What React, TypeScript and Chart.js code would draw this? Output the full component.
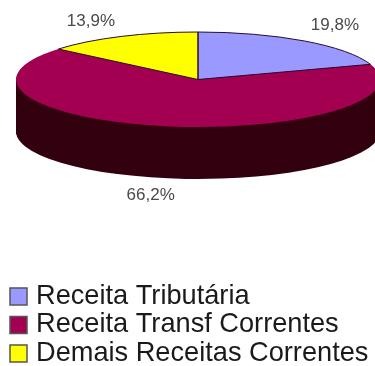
import React, { useEffect, useRef } from "react";
import { Chart, registerables } from "chart.js";

Chart.register(...registerables);

const categories = ["Receita Tributária", "Receita Transf Correntes", "Demais Receitas Correntes"];
const shares = [19.8, 66.2, 13.9];
const shareLabels = ["19,8%", "66,2%", "13,9%"];
const topColors = ["#9999FF", "#A30052", "#FFFF00"];
const wallColors = ["#4C4C80", "#33000F", "#808000"];
const outlinedSlices = [true, false, true];
const labelReachX = [1.29, 1.41, 1.39];
const labelReachY = [1.4, 1.37, 1.35];

// Geometry of the tilted disc
const CENTER_X = 198;
const CENTER_Y = 79.5;
const RADIUS_X = 182;
const RADIUS_Y = 47.5;
const DEPTH = 52;

// Where the legend block sits relative to its default slot
const LEGEND_SHIFT_X = 13.3;
const LEGEND_SHIFT_Y = 11;

function fillWall(ctx: any, arc: any, color: string) {
  ctx.fillStyle = color;
  for (let dy = DEPTH; dy > 0; dy--) {
    ctx.beginPath();
    ctx.moveTo(CENTER_X, CENTER_Y + dy);
    ctx.ellipse(CENTER_X, CENTER_Y + dy, RADIUS_X, RADIUS_Y, 0, arc.startAngle, arc.endAngle);
    ctx.closePath();
    ctx.fill();
  }
}

const tiltedPie = {
  id: "tiltedPie",
  beforeLayout(chart: any) {
    // Swatches overhang the legend's own box, so it must not clip them
    chart.legend.draw = function () {
      this._draw();
    };
  },
  afterLayout(chart: any) {
    const legend = chart.legend;
    legend.left += LEGEND_SHIFT_X;
    legend.right += LEGEND_SHIFT_X;
    legend.top += LEGEND_SHIFT_Y;
    legend.bottom += LEGEND_SHIFT_Y;
  },
  beforeDatasetsDraw(chart: any) {
    const ctx = chart.ctx;
    const arcs = chart.getDatasetMeta(0).data;
    ctx.save();
    // The wall is a stack of shifted sectors; the front slice goes last
    fillWall(ctx, arcs[0], wallColors[0]);
    fillWall(ctx, arcs[2], wallColors[2]);
    fillWall(ctx, arcs[1], wallColors[1]);
    ctx.restore();
  },
  beforeDatasetDraw(chart: any) {
    const ctx = chart.ctx;
    const first = chart.getDatasetMeta(0).data[0];
    ctx.save();
    ctx.translate(CENTER_X, CENTER_Y);
    ctx.scale(RADIUS_X / first.outerRadius, RADIUS_Y / first.outerRadius);
    ctx.translate(-first.x, -first.y);
  },
  afterDatasetDraw(chart: any) {
    chart.ctx.restore();
  },
  afterDatasetsDraw(chart: any) {
    const ctx = chart.ctx;
    const arcs = chart.getDatasetMeta(0).data;
    ctx.save();
    // Slice outlines on the top face
    ctx.lineWidth = 1;
    ctx.strokeStyle = "#2A0A30";
    arcs.forEach((arc: any, i: number) => {
      if (!outlinedSlices[i]) return;
      ctx.beginPath();
      ctx.moveTo(CENTER_X, CENTER_Y);
      ctx.ellipse(CENTER_X, CENTER_Y, RADIUS_X, RADIUS_Y, 0, arc.startAngle, arc.endAngle);
      ctx.closePath();
      ctx.stroke();
    });
    // Percentage labels outside the disc
    ctx.font = "17px 'Liberation Sans'";
    ctx.fillStyle = "#4A4A4A";
    ctx.textAlign = "center";
    ctx.textBaseline = "middle";
    arcs.forEach((arc: any, i: number) => {
      const mid = (arc.startAngle + arc.endAngle) / 2;
      const x = CENTER_X + Math.cos(mid) * RADIUS_X * labelReachX[i];
      const y = CENTER_Y + Math.sin(mid) * RADIUS_Y * labelReachY[i] + (Math.sin(mid) > 0 ? DEPTH : 0);
      ctx.fillText(shareLabels[i], x, y);
    });
    ctx.restore();
  },
};

export default function App() {
  const canvasRef = useRef<HTMLCanvasElement>(null);

  useEffect(() => {
    const chart = new Chart(canvasRef.current as HTMLCanvasElement, {
      type: "pie",
      data: {
        labels: categories,
        datasets: [
          {
            data: shares,
            backgroundColor: topColors,
            borderWidth: 0,
            clip: false,
          } as any,
        ],
      },
      options: {
        responsive: false,
        animation: false,
        plugins: {
          tooltip: { enabled: false },
          legend: {
            position: "bottom",
            align: "start",
            labels: {
              usePointStyle: true,
              pointStyle: "rect",
              boxWidth: 7.8,
              boxHeight: 17,
              padding: 1.3,
              color: "#1A1A1A",
              font: { family: "'Liberation Sans'", size: 27.2 },
              generateLabels(c: any) {
                const items = Chart.overrides.pie.plugins.legend.labels.generateLabels(c);
                return items.map((item: any) => ({
                  ...item,
                  strokeStyle: "#555555",
                  lineWidth: 1.5,
                  pointStyle: "rect",
                }));
              },
            },
          },
        },
      },
      plugins: [tiltedPie],
    } as any);
    return () => chart.destroy();
  }, []);

  return (
    <div style={{ position: "absolute", left: 0, top: 0, width: 375, height: 366, overflow: "hidden" }}>
      <canvas ref={canvasRef} width={375} height={366} style={{ display: "block" }} />
    </div>
  );
}
